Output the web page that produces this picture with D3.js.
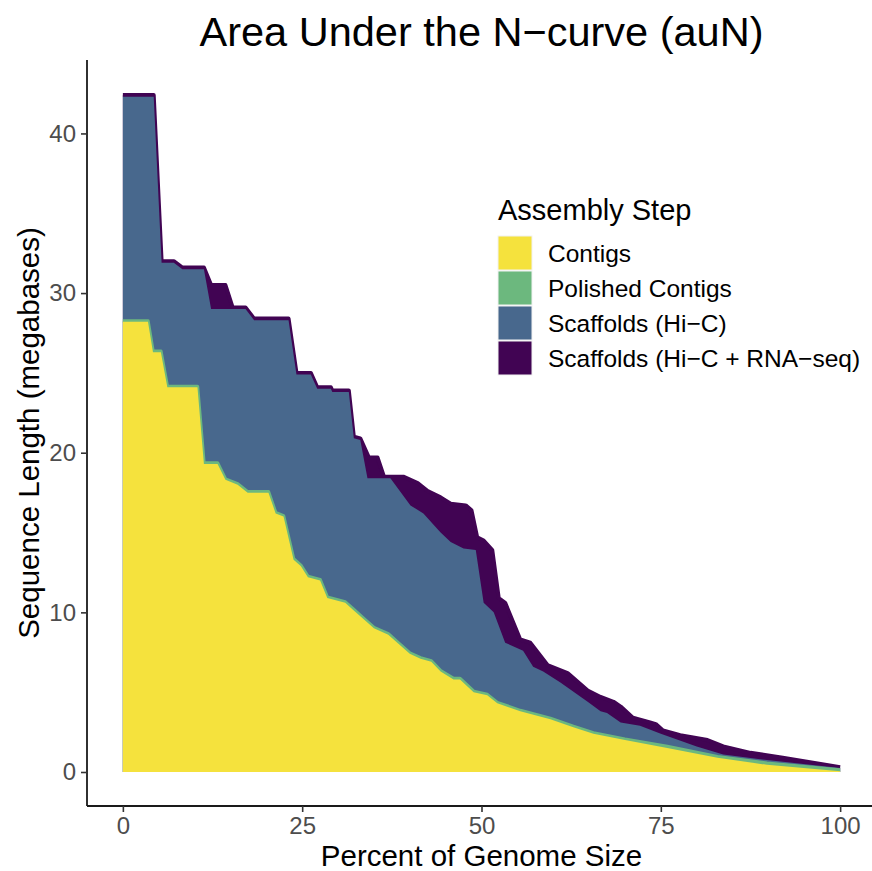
<!DOCTYPE html>
<html>
<head>
<meta charset="utf-8">
<script src="https://cdn.jsdelivr.net/npm/d3@7/dist/d3.min.js"></script>
<style>
  html, body { margin: 0; padding: 0; background: #fff; }
  svg { display: block; font-family: "Liberation Sans", Arial, Helvetica, sans-serif; }
</style>
</head>
<body>
<svg id="chart" width="872" height="871"></svg>
<script>
// ---- Data (x = percent of genome size, y = sequence length in megabases) ----
const seriesNames = ["Contigs", "Polished Contigs", "Scaffolds (Hi\u2212C)", "Scaffolds (Hi\u2212C + RNA\u2212seq)"];
const seriesColors = ["#F5E23D", "#6CB87E", "#48688D", "#410453"];

const contigs = [
  [0,28.2],[3.5,28.2],[4.2,26.3],[5.3,26.3],[6.2,24.1],[10.4,24.1],[11.3,19.3],[13.2,19.3],
  [14.3,18.3],[16,18.0],[17.4,17.5],[20.3,17.5],[21.3,16.2],[22.4,16.0],[23.8,13.3],[24.8,12.9],
  [25.8,12.2],[27.5,12.0],[28.5,10.9],[31,10.6],[32,10.2],[33.5,9.6],[35,9.0],[37,8.6],
  [38.5,8.0],[40,7.4],[41.5,7.1],[43,6.9],[44.3,6.3],[46.1,5.8],[47,5.8],[48.9,5.0],
  [50.8,4.8],[52.2,4.3],[55.4,3.8],[59.6,3.3],[62.8,2.8],[65.6,2.4],[70,2.0],[75.9,1.5],
  [82.9,0.9],[89.8,0.45],[100,0.05]
];
const polished = [
  [0,28.25],[3.5,28.25],[4.2,26.35],[5.3,26.35],[6.2,24.15],[10.4,24.15],[11.3,19.35],[13.2,19.35],
  [14.3,18.35],[16,18.05],[17.4,17.55],[20.3,17.55],[21.3,16.25],[22.4,16.05],[23.8,13.35],[24.8,12.95],
  [25.8,12.25],[27.5,12.05],[28.5,10.95],[31,10.65],[32,10.25],[33.5,9.65],[35,9.05],[37,8.65],
  [38.5,8.05],[40,7.45],[41.5,7.15],[43,6.95],[44.3,6.35],[46.1,5.85],[47,5.85],[48.9,5.05],
  [50.8,4.85],[52.2,4.35],[55.4,3.85],[59.6,3.35],[62.8,2.85],[65.6,2.45],[70,2.05],[75.9,1.6],
  [82.9,0.95],[89.8,0.55],[100,0.12]
];
const scaffoldsHiC = [
  [0,42.3],[4.3,42.3],[5.4,31.9],[7.1,31.9],[8.3,31.5],[11.3,31.5],[12.3,29.0],[15.3,29.0],
  [17.1,29.0],[18.3,28.3],[23.1,28.3],[24.2,24.9],[26.2,24.9],[27.1,24.0],[29.0,24.0],[29.2,23.8],
  [31.5,23.8],[32.2,20.9],[33.1,20.8],[34.1,18.4],[37.3,18.4],[40.1,16.7],[41.9,16.2],[44.3,15.0],
  [45.7,14.4],[47.5,14.0],[49.2,13.9],[50.3,10.6],[51.7,10.0],[53.3,8.1],[55.8,7.6],[57.2,6.6],
  [58.6,6.3],[61,5.6],[64.8,4.4],[66.6,3.8],[67.5,3.7],[69.4,3.1],[72.1,2.9],[75,2.4],
  [80,1.6],[83.7,1.1],[89.8,0.75],[100,0.25]
];
const scaffoldsRNA = [
  [0,42.4],[4.3,42.4],[5.4,32.0],[7.1,32.0],[8.3,31.6],[11.3,31.6],[12.3,30.5],[14.3,30.5],
  [15.3,29.1],[17.1,29.1],[18.3,28.4],[23.1,28.4],[24.2,25.0],[26.2,25.0],[27.1,24.1],[29.0,24.1],
  [29.2,23.9],[31.5,23.9],[32.2,21.0],[33.1,20.9],[34.3,19.7],[35.5,19.7],[36.4,18.5],[39.1,18.5],
  [41.1,18.1],[42.5,17.6],[44.3,17.2],[45.7,16.8],[47.8,16.7],[48.6,16.4],[49.4,14.7],[50.3,14.5],
  [51.5,13.9],[52.4,10.9],[53.3,10.6],[55.4,8.3],[56.8,8.1],[59.2,6.7],[62,6.2],[64.8,5.1],
  [66.6,4.7],[68.4,4.4],[69.4,4.1],[71.1,3.4],[73.5,3.1],[74.3,3.0],[75.3,2.6],[77.7,2.3],
  [81.5,2.0],[83.7,1.6],[87.5,1.2],[92,0.9],[100,0.3]
];
const xTicks = [0, 25, 50, 75, 100];
const yTicks = [0, 10, 20, 30, 40];
const titleText = "Area Under the N\u2212curve (auN)";
const xTitle = "Percent of Genome Size";
const yTitle = "Sequence Length (megabases)";
const legendTitle = "Assembly Step";

// ---- Layout ----
const svg = d3.select("#chart");
const panel = { left: 87, right: 876, top: 60, bottom: 806 };

const x = d3.scaleLinear().domain([-5, 105]).range([panel.left, panel.right]);
const y = d3.scaleLinear().domain([-2.13, 44.6]).range([panel.bottom, panel.top]);

const area = d3.area().x(d => x(d[0])).y0(y(0)).y1(d => y(d[1]));
const line = d3.line().x(d => x(d[0])).y(d => y(d[1]));

const g = svg.append("g");

// draw back to front: RNA-seq, Hi-C, polished, contigs
g.append("path").datum(scaffoldsRNA).attr("d", area).attr("fill", seriesColors[3]);
g.append("path").datum(scaffoldsRNA).attr("d", line).attr("fill", "none")
  .attr("stroke", seriesColors[3]).attr("stroke-width", 4).attr("stroke-linejoin", "round");
g.append("path").datum(scaffoldsHiC).attr("d", area).attr("fill", seriesColors[2]);
g.append("path").datum(polished).attr("d", area).attr("fill", seriesColors[1]);
g.append("path").datum(polished).attr("d", line).attr("fill", "none")
  .attr("stroke", seriesColors[1]).attr("stroke-width", 3.5).attr("stroke-linejoin", "round");
g.append("path").datum(contigs).attr("d", area).attr("fill", seriesColors[0]);

// ---- Axes ----
const xAxis = d3.axisBottom(x).tickValues(xTicks).tickSize(6).tickPadding(5).tickSizeOuter(0);
const yAxis = d3.axisLeft(y).tickValues(yTicks).tickSize(6).tickPadding(5).tickSizeOuter(0);

const gx = svg.append("g").attr("transform", `translate(0,${panel.bottom})`).call(xAxis);
const gy = svg.append("g").attr("transform", `translate(${panel.left},0)`).call(yAxis);

[gx, gy].forEach(ax => {
  ax.select(".domain").attr("stroke", "#1a1a1a").attr("stroke-width", 1.8);
  ax.selectAll(".tick line").attr("stroke", "#333").attr("stroke-width", 1.6);
  ax.selectAll(".tick text").attr("fill", "#4D4D4D").style("font-size", "24px")
    .style("font-family", "'Liberation Sans', Arial, sans-serif");
});
gx.select(".domain").attr("d", `M${panel.left},0H${panel.right}`);
gy.select(".domain").attr("d", `M0,${panel.top}V${panel.bottom}`);

// ---- Titles ----
svg.append("text").attr("x", (panel.left + panel.right) / 2).attr("y", 46)
  .attr("text-anchor", "middle").style("font-size", "41.5px").attr("fill", "#000").text(titleText);

svg.append("text").attr("x", (panel.left + panel.right) / 2).attr("y", 866)
  .attr("text-anchor", "middle").style("font-size", "29.5px").attr("fill", "#000").text(xTitle);

svg.append("text").attr("transform", `translate(39,${(panel.top + panel.bottom) / 2}) rotate(-90)`)
  .attr("text-anchor", "middle").style("font-size", "29.5px").attr("fill", "#000").text(yTitle);

// ---- Legend ----
const legend = svg.append("g").attr("transform", "translate(498,0)");
legend.append("text").attr("x", 0).attr("y", 220).style("font-size", "29px").attr("fill", "#000").text(legendTitle);
const keyH = 35;
seriesNames.forEach((name, i) => {
  const top = 236 + i * keyH;
  legend.append("rect").attr("x", 0).attr("y", top).attr("width", 34).attr("height", keyH - 1)
    .attr("fill", seriesColors[i]).attr("stroke", "#f2f2f2").attr("stroke-width", 1);
  legend.append("text").attr("x", 50).attr("y", top + keyH / 2).attr("dy", "0.35em")
    .style("font-size", "24.5px").attr("fill", "#000").text(name);
});
</script>
</body>
</html>
